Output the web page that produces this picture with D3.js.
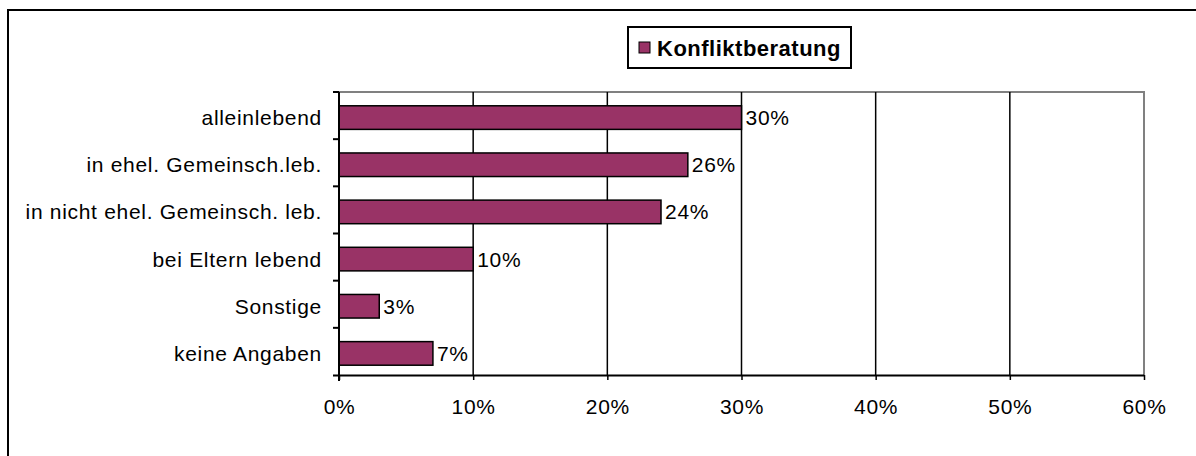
<!DOCTYPE html>
<html>
<head>
<meta charset="utf-8">
<script src="https://cdn.jsdelivr.net/npm/d3@7"></script>
<style>
  body { margin: 0; background: #fff; }
  svg { display: block; font-family: "Liberation Sans", Arial, sans-serif; }
</style>
</head>
<body>
<div id="chart"></div>
<script>
// Data
const categories = ["alleinlebend", "in ehel. Gemeinsch.leb.", "in nicht ehel. Gemeinsch. leb.", "bei Eltern lebend", "Sonstige", "keine Angaben"];
const values = [30, 26, 24, 10, 3, 7];
const seriesName = "Konfliktberatung";
const xTicks = [0, 10, 20, 30, 40, 50, 60];

const width = 1196, height = 456;
const plot = { left: 339, right: 1144, top: 92, bottom: 375 };
const barColor = "#993366";
const fontSize = 21;
const spacing = 0.7;

const svg = d3.select("#chart").append("svg")
  .attr("width", width)
  .attr("height", height);

// outer chart frame (only top/left visible in the window)
svg.append("rect")
  .attr("x", 8).attr("y", 10)
  .attr("width", width + 20).attr("height", height + 20)
  .attr("fill", "none")
  .attr("stroke", "#000")
  .attr("stroke-width", 2);

const x = d3.scaleLinear().domain([0, 60]).range([plot.left, plot.right]);
const y = d3.scaleBand().domain(categories).range([plot.top, plot.bottom]).paddingInner(0.5).paddingOuter(0.25);
const yBand = d3.scaleBand().domain(categories).range([plot.top, plot.bottom]);

// plot area border (grey top/right)
svg.append("path")
  .attr("d", `M${plot.left},${plot.top}H${plot.right}V${plot.bottom}`)
  .attr("fill", "none")
  .attr("stroke", "#808080")
  .attr("stroke-width", 2);

// vertical gridlines
svg.append("g")
  .selectAll("line")
  .data(xTicks.filter(d => d > 0 && d < 60))
  .join("line")
  .attr("x1", d => x(d)).attr("x2", d => x(d))
  .attr("y1", plot.top).attr("y2", plot.bottom)
  .attr("stroke", "#000")
  .attr("stroke-width", 1.5);

// bars
svg.append("g")
  .selectAll("rect")
  .data(values)
  .join("rect")
  .attr("x", x(0))
  .attr("y", (d, i) => y(categories[i]) + 2)
  .attr("width", d => x(d) - x(0))
  .attr("height", y.bandwidth())
  .attr("fill", barColor)
  .attr("stroke", "#000")
  .attr("stroke-width", 1.5);

// value labels
svg.append("g")
  .selectAll("text")
  .data(values)
  .join("text")
  .attr("x", d => x(d) + 4)
  .attr("y", (d, i) => y(categories[i]) + 2 + y.bandwidth() / 2)
  .attr("dy", "0.36em")
  .attr("font-size", fontSize)
  .attr("letter-spacing", spacing)
  .attr("fill", "#000")
  .text(d => d + "%");

// x axis
const xAxis = svg.append("g")
  .attr("transform", `translate(0,${plot.bottom})`)
  .call(d3.axisBottom(x).tickValues(xTicks).tickFormat(d => d + "%").tickSizeInner(5).tickSizeOuter(0).tickPadding(19));
xAxis.select(".domain").attr("stroke", "#000").attr("stroke-width", 2)
  .attr("d", `M${plot.left - 6},0.5H${plot.right}`);
xAxis.selectAll(".tick line").attr("stroke", "#000").attr("stroke-width", 1.5);
xAxis.selectAll(".tick text").attr("font-size", fontSize).attr("letter-spacing", spacing)
  .attr("fill", "#000").attr("font-family", "Liberation Sans, Arial, sans-serif");

// y axis with ticks between categories
const yAxis = svg.append("g")
  .attr("transform", `translate(${plot.left},0)`);
yAxis.append("line")
  .attr("x1", 0).attr("x2", 0)
  .attr("y1", plot.top).attr("y2", plot.bottom + 6)
  .attr("stroke", "#000").attr("stroke-width", 2);
yAxis.selectAll("line.sep")
  .data(categories)
  .join("line")
  .attr("class", "sep")
  .attr("x1", -6).attr("x2", 0)
  .attr("y1", d => yBand(d)).attr("y2", d => yBand(d))
  .attr("stroke", "#000").attr("stroke-width", 2);
yAxis.selectAll("text")
  .data(categories)
  .join("text")
  .attr("x", -17)
  .attr("y", d => y(d) + 2 + y.bandwidth() / 2)
  .attr("dy", "0.36em")
  .attr("text-anchor", "end")
  .attr("font-size", fontSize)
  .attr("letter-spacing", spacing)
  .attr("fill", "#000")
  .text(d => d);

// legend
const legend = svg.append("g").attr("transform", "translate(628,27)");
legend.append("rect")
  .attr("width", 223).attr("height", 41)
  .attr("fill", "#fff")
  .attr("stroke", "#000")
  .attr("stroke-width", 2);
legend.append("rect")
  .attr("x", 11).attr("y", 15)
  .attr("width", 11).attr("height", 11)
  .attr("fill", barColor)
  .attr("stroke", "#000")
  .attr("stroke-width", 1);
legend.append("text")
  .attr("x", 29).attr("y", 21)
  .attr("dy", "0.36em")
  .attr("font-size", 22)
  .attr("letter-spacing", 0.5)
  .attr("font-weight", "bold")
  .attr("fill", "#000")
  .text(seriesName);
</script>
</body>
</html>
